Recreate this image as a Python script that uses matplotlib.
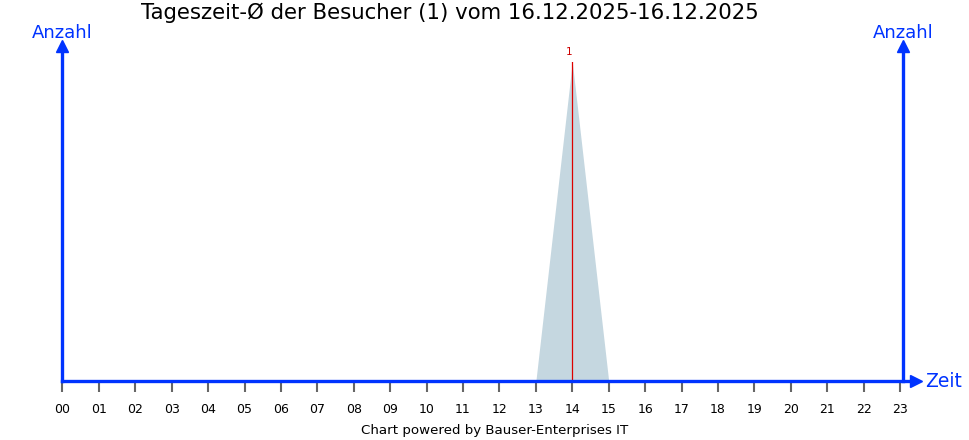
import numpy as np
import matplotlib
matplotlib.use("Agg")
import matplotlib.pyplot as plt

# hourly visitor counts
hours = list(range(24))
hourLabels = ["%02d" % h for h in hours]
visitors = [0, 0, 0, 0, 0, 0, 0, 0, 0, 0, 0, 0, 0, 0, 1, 0, 0, 0, 0, 0, 0, 0, 0, 0]

title = "Tageszeit-Ø der Besucher (1) vom 16.12.2025-16.12.2025"
footer = "Chart powered by Bauser-Enterprises IT"

axisBlue = "#0033ff"
fillColor = "#c5d7e0"

fig = plt.figure(figsize=(9.70, 4.40), dpi=100)
W, H = 970, 440
ax = fig.add_axes([62.5 / W, 59 / H, 837.5 / W, 319 / H])
ax.set_xlim(0, 23)
ax.set_ylim(0, 1)
for s in ax.spines.values():
    s.set_visible(False)

# area + peak lines
ax.fill_between(hours, visitors, 0, color=fillColor, lw=0, zorder=1)
for h, v in zip(hours, visitors):
    if v > 0:
        ax.plot([h, h], [0, v], color="#dd0000", lw=0.9, zorder=2)
        ax.text(h - 0.08, v + 0.015, str(v), color="#cc0000", fontsize=7.5,
                ha="center", va="bottom")

# axes with arrows
top = 1.05
xr = 23.08
ax.plot([0, 0], [0, top - 0.02], color=axisBlue, lw=2.4, clip_on=False, zorder=3)
ax.plot([xr, xr], [0, top - 0.02], color=axisBlue, lw=2.4, clip_on=False, zorder=3)
ax.plot([0, 23.3], [0, 0], color=axisBlue, lw=2.4, clip_on=False, zorder=3)
ax.plot([0, xr], [top, top], ls="none", marker="^", ms=9, color=axisBlue,
        clip_on=False, zorder=4)
ax.plot([23.45], [0], ls="none", marker=">", ms=9, color=axisBlue,
        clip_on=False, zorder=4)

ax.set_xticks(hours)
ax.set_xticklabels(hourLabels, fontsize=9)
ax.set_yticks([])
ax.tick_params(axis="x", direction="out", length=8, width=1.5, color="#666666",
               pad=8)

fig.text(450 / W, 1 - 13 / H, title, fontsize=15.3, ha="center", va="center")
fig.text(62 / W, 1 - 33 / H, "Anzahl", fontsize=13, color=axisBlue,
         ha="center", va="center")
fig.text(903 / W, 1 - 33 / H, "Anzahl", fontsize=13, color=axisBlue,
         ha="center", va="center")
fig.text(925 / W, 1 - 381 / H, "Zeit", fontsize=13.5, color=axisBlue,
         ha="left", va="center")
fig.text(495 / W, 1 - 430 / H, footer, fontsize=9.6, ha="center", va="center")

fig.savefig("out.png", dpi=100)
